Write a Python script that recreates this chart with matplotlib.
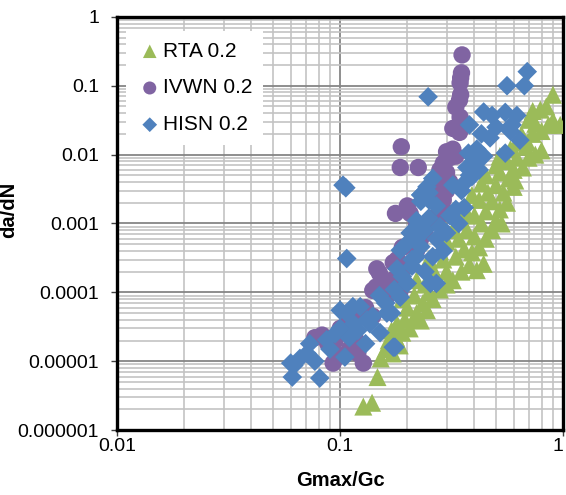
import numpy as np
import matplotlib
matplotlib.use("Agg")
import matplotlib.pyplot as plt
from matplotlib.ticker import LogLocator, FuncFormatter, NullFormatter

plt.rcParams['font.family'] = ['Liberation Sans', 'DejaVu Sans']

# ---------------- data ----------------
rta_x = [0.127, 0.139, 0.147,
         0.152, 0.16, 0.172, 0.185, 0.165, 0.178,
         0.17, 0.19, 0.205, 0.23, 0.215, 0.195, 0.18, 0.245, 0.22,
         0.2, 0.235, 0.26, 0.25, 0.215, 0.19, 0.28, 0.30, 0.24, 0.22, 0.27, 0.32,
         0.35, 0.41, 0.44, 0.38, 0.30, 0.26, 0.25, 0.29, 0.33, 0.39, 0.36, 0.28, 0.42,
         0.30, 0.34, 0.40, 0.45, 0.48, 0.37, 0.32, 0.29, 0.43, 0.50, 0.53, 0.35, 0.40,
         0.37, 0.45, 0.52, 0.56, 0.48, 0.42, 0.39, 0.46, 0.54, 0.60, 0.61, 0.50, 0.43, 0.57,
         0.45, 0.52, 0.60, 0.66, 0.50, 0.56, 0.62, 0.70, 0.75, 0.80, 0.52, 0.58, 0.68,
         0.62, 0.69, 0.65, 0.73, 0.80, 0.90, 0.97, 0.86, 0.75, 0.70, 0.79,
         0.90, 0.84, 0.73]
rta_y = [2.2e-6, 2.5e-6, 5.9e-6,
         1.1e-5, 1.5e-5, 1.3e-5, 1.7e-5, 2.0e-5, 2.2e-5,
         2.8e-5, 2.6e-5, 3.0e-5, 3.9e-5, 4.2e-5, 4.0e-5, 3.5e-5, 5.5e-5, 5.0e-5,
         6.0e-5, 7.0e-5, 8.0e-5, 1.0e-4, 9.0e-5, 8.0e-5, 1.1e-4, 1.3e-4, 1.3e-4, 1.5e-4, 1.5e-4, 1.5e-4,
         2.0e-4, 2.1e-4, 2.6e-4, 2.5e-4, 2.0e-4, 2.2e-4, 3.0e-4, 3.0e-4, 3.3e-4, 3.8e-4, 4.2e-4, 4.0e-4, 4.5e-4,
         5.5e-4, 6.0e-4, 6.5e-4, 6.0e-4, 8.0e-4, 8.0e-4, 8.0e-4, 9.0e-4, 1.0e-3, 1.1e-3, 1.0e-3, 1.1e-3, 1.3e-3,
         1.4e-3, 1.5e-3, 1.6e-3, 2.0e-3, 2.1e-3, 2.2e-3, 2.6e-3, 2.8e-3, 2.8e-3, 3.4e-3, 4.2e-3, 3.6e-3, 3.8e-3, 4.5e-3,
         5.0e-3, 5.5e-3, 6.0e-3, 6.5e-3, 7.0e-3, 8.0e-3, 9.0e-3, 9.0e-3, 1.0e-2, 1.15e-2, 9.5e-3, 1.2e-2, 1.3e-2,
         1.5e-2, 1.5e-2, 1.95e-2, 2.0e-2, 2.2e-2, 3.1e-2, 2.7e-2, 2.7e-2, 2.8e-2, 3.2e-2, 4.5e-2,
         7.4e-2, 5.0e-2, 4.3e-2]

ivwn_x = [0.352, 0.350, 0.347, 0.345, 0.347, 0.343, 0.330, 0.345, 0.320, 0.343,
          0.188, 0.186, 0.224, 0.30, 0.31, 0.29, 0.32, 0.33, 0.28, 0.30, 0.29, 0.31, 0.28,
          0.29, 0.30, 0.27, 0.29, 0.28, 0.26,
          0.177, 0.206, 0.20, 0.22, 0.24, 0.23, 0.21, 0.19, 0.22, 0.18, 0.173, 0.146,
          0.15, 0.145, 0.16, 0.14, 0.17, 0.19, 0.20, 0.185, 0.16, 0.13, 0.12, 0.14,
          0.11, 0.10, 0.083, 0.088, 0.093, 0.10, 0.11, 0.127, 0.12, 0.118, 0.095, 0.077]
ivwn_y = [0.28, 0.154, 0.13, 0.11, 0.074, 0.062, 0.049, 0.035, 0.024, 0.021,
          0.013, 0.0065, 0.0065, 0.011, 0.009, 0.0075, 0.012, 0.0095, 0.006, 0.0055, 0.0045, 0.004, 0.0035,
          0.0022, 0.003, 0.0028, 0.0016, 0.0013, 0.0012,
          0.0014, 0.0014, 0.0018, 0.001, 0.0008, 0.0006, 0.0005, 0.00045, 0.0004, 0.0003, 2.7e-4, 2.2e-4,
          1.9e-4, 1.2e-4, 1.3e-4, 1.07e-4, 1.5e-4, 2.0e-4, 2.5e-4, 1.0e-4, 8.0e-5, 6.0e-5, 5.0e-5, 4.5e-5,
          4.0e-5, 3.0e-5, 2.4e-5, 1.8e-5, 9.4e-6, 1.2e-5, 1.5e-5, 9.4e-6, 1.3e-5, 2.0e-5, 2.0e-5, 2.2e-5]

hisn_x = [0.103, 0.106, 0.107, 0.248, 0.69, 0.56, 0.67,
          0.44, 0.48, 0.55, 0.62, 0.50, 0.59, 0.47, 0.64, 0.55, 0.38, 0.376, 0.43, 0.58,
          0.37, 0.32, 0.39, 0.245, 0.23, 0.33, 0.26, 0.25, 0.36, 0.34, 0.30, 0.26, 0.23,
          0.20, 0.21, 0.20, 0.254, 0.27, 0.186, 0.17, 0.151, 0.176, 0.13, 0.132, 0.123,
          0.107, 0.115, 0.105, 0.087, 0.071, 0.066, 0.060, 0.061, 0.081, 0.077, 0.090,
          0.095, 0.10, 0.11, 0.12, 0.14, 0.16, 0.15, 0.175, 0.19, 0.18, 0.21, 0.22,
          0.24, 0.22, 0.25, 0.28, 0.27, 0.25, 0.31, 0.27, 0.29, 0.24, 0.23, 0.35,
          0.42, 0.37, 0.40, 0.38, 0.206, 0.186, 0.114, 0.10, 0.073, 0.062, 0.136,
          0.173, 0.162, 0.22, 0.23, 0.44, 0.41]
hisn_y = [0.0036, 0.0033, 3.1e-4, 0.069, 0.16, 0.10, 0.10,
          0.0415, 0.037, 0.041, 0.037, 0.025, 0.027, 0.0175, 0.0162, 0.0105, 0.027, 0.0105, 0.02, 0.022,
          0.0042, 0.0036, 0.0048, 0.0034, 0.0021, 0.0016, 0.0045, 0.0028, 0.0017, 0.001, 7.3e-4, 3.3e-4, 4.6e-4,
          5.2e-4, 2.4e-4, 1.35e-4, 1.35e-4, 1.35e-4, 8.5e-5, 5.0e-5, 2.6e-5, 1.6e-5, 1.8e-5, 4.0e-5, 6.2e-5,
          5.0e-5, 3.5e-5, 1.15e-5, 2.05e-5, 1.3e-5, 1.1e-5, 9.4e-6, 5.9e-6, 5.7e-6, 1.0e-5, 1.5e-5,
          2.5e-5, 3.0e-5, 2.2e-5, 2.8e-5, 4.5e-5, 7.0e-5, 9.0e-5, 1.1e-4, 1.7e-4, 2.2e-4, 3.0e-4, 6.0e-4,
          8.0e-4, 0.0011, 0.0012, 0.0009, 0.0018, 0.0022, 0.0013, 0.0006, 0.0004, 0.0002, 0.0026, 0.003,
          0.006, 0.0065, 0.0075, 0.005, 7.3e-4, 4.1e-4, 6.2e-5, 5.5e-5, 1.8e-5, 8.7e-6, 3.5e-5,
          1.6e-5, 5.0e-5, 3.3e-4, 0.0026, 0.0095, 0.012]

labels = ["RTA 0.2", "IVWN 0.2", "HISN 0.2"]
colors = ["#9BBB59", "#8064A2", "#4F81BD"]
x_ticks = [0.01, 0.1, 1]
y_ticks = [1e-6, 1e-5, 1e-4, 1e-3, 1e-2, 1e-1, 1]

# ---------------- figure ----------------
fig = plt.figure(figsize=(5.66, 4.95), dpi=100)
ax = fig.add_axes([0.207, 0.131, 0.788, 0.835])

ax.scatter(rta_x, rta_y, marker='^', s=13**2, color=colors[0], edgecolors='none', label=labels[0], zorder=3)
ax.scatter(ivwn_x, ivwn_y, marker='o', s=12.5**2, color=colors[1], edgecolors='none', label=labels[1], zorder=3)
ax.scatter(hisn_x, hisn_y, marker='D', s=10**2, color=colors[2], edgecolors='none', label=labels[2], zorder=3)

ax.set_xscale('log')
ax.set_yscale('log')
ax.set_xlim(0.01, 1)
ax.set_ylim(1e-6, 1)

ax.xaxis.set_minor_locator(LogLocator(base=10, subs=np.arange(2, 10), numticks=20))
ax.yaxis.set_minor_locator(LogLocator(base=10, subs=np.arange(2, 10), numticks=20))
ax.set_xticks(x_ticks)
ax.set_yticks(y_ticks)
fmt = FuncFormatter(lambda v, p: np.format_float_positional(v, trim='-'))
ax.xaxis.set_major_formatter(fmt)
ax.yaxis.set_major_formatter(fmt)
ax.xaxis.set_minor_formatter(NullFormatter())
ax.yaxis.set_minor_formatter(NullFormatter())

ax.set_axisbelow(True)
ax.grid(which='major', color='#868686', linewidth=1.3)
ax.grid(which='minor', color='#c3c3c3', linewidth=1.2)

ax.tick_params(which='major', direction='out', length=4, width=1, color='#404040',
               labelsize=14)
ax.tick_params(axis='y', pad=9)
ax.tick_params(axis='x', pad=2)
ax.tick_params(which='minor', length=0)

# keep the last x tick label inside the figure, as in the reference
fig.canvas.draw()
xlabels = ax.get_xticklabels()
xlabels[-1].set_horizontalalignment('right')
xlabels[-1].set_x(1.0)

for sp in ax.spines.values():
    sp.set_color('black')
    sp.set_linewidth(2.4)

ax.set_xlabel('Gmax/Gc', fontsize=14.5, fontweight='bold', labelpad=11)
ax.set_ylabel('da/dN', fontsize=14.5, fontweight='bold')
ax.yaxis.set_label_coords(-0.222, 0.533)

leg = ax.legend(loc='upper left', bbox_to_anchor=(0.01, 0.975), frameon=True, fancybox=False,
                edgecolor='none', facecolor='white', framealpha=1, fontsize=15,
                markerscale=0.75, handletextpad=0.0, labelspacing=0.85, borderpad=0.5,
                handlelength=1.3, borderaxespad=0.2)

fig.savefig('out.png', dpi=100)
